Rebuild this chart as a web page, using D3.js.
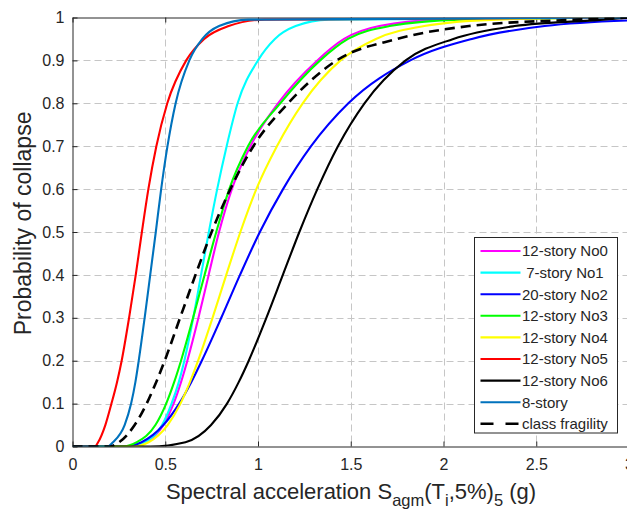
<!DOCTYPE html>
<html>
<head>
<meta charset="utf-8">
<script src="https://cdn.jsdelivr.net/npm/d3@7"></script>
<style>
    body { margin: 0; background: #fff; }
    text { font-family: "Liberation Sans", Arial, Helvetica, sans-serif; fill: #262626; }
</style>
</head>
<body>
<script>

// Chart data

// probability levels at which each curve was read
var probLevels = [0, 0.01, 0.05, 0.1, 0.15, 0.2, 0.3, 0.4, 0.5, 0.6, 0.7, 0.8, 0.9, 0.95, 0.98, 0.995];

// Sa values (g) for each curve at the levels above
var no0 = [0.30, 0.393, 0.490, 0.545, 0.585, 0.619, 0.679, 0.734, 0.79, 0.859, 0.959, 1.108, 1.32, 1.464, 1.654, 1.996];
var no1 = [0.30, 0.39, 0.483, 0.534, 0.573, 0.603, 0.651, 0.693, 0.735, 0.780, 0.831, 0.89, 1.000, 1.091, 1.203, 1.382];
var no2 = [0.28, 0.372, 0.490, 0.575, 0.640, 0.697, 0.802, 0.903, 1.01, 1.135, 1.286, 1.487, 1.821, 2.153, 2.545, 3.137];
var no3 = [0.27, 0.347, 0.447, 0.505, 0.548, 0.585, 0.650, 0.712, 0.775, 0.845, 0.946, 1.12, 1.335, 1.485, 1.709, 2.09];
var no4 = [0.33, 0.410, 0.513, 0.582, 0.633, 0.677, 0.755, 0.829, 0.905, 0.991, 1.102, 1.241, 1.445, 1.636, 1.896, 2.287];
var no5 = [0.12, 0.138, 0.177, 0.210, 0.240, 0.265, 0.305, 0.341, 0.374, 0.409, 0.452, 0.511, 0.613, 0.710, 0.842, 1.035];
var no6 = [0.42, 0.609, 0.747, 0.833, 0.896, 0.950, 1.045, 1.134, 1.223, 1.320, 1.431, 1.574, 1.796, 2.053, 2.384, 2.862];
var story8 = [0.19, 0.218, 0.281, 0.316, 0.339, 0.357, 0.389, 0.419, 0.449, 0.478, 0.512, 0.556, 0.630, 0.700, 0.790, 0.948];
var classFragility = [0.2, 0.251, 0.335, 0.400, 0.451, 0.497, 0.580, 0.663, 0.75, 0.851, 0.975, 1.162, 1.424, 1.750, 2.138, 2.72];

var seriesNames = ['12-story No0', ' 7-story No1', '20-story No2', '12-story No3', '12-story No4',
    '12-story No5', '12-story No6', '8-story', 'class fragility'];
var seriesValues = [no0, no1, no2, no3, no4, no5, no6, story8, classFragility];

var xTicks = [0, 0.5, 1, 1.5, 2, 2.5, 3];
var yTicks = [0, 0.1, 0.2, 0.3, 0.4, 0.5, 0.6, 0.7, 0.8, 0.9, 1];
var xDomain = [0, 3];
var yDomain = [0, 1];

// Styles
var seriesColors = ['#ff00ff', '#00ffff', '#0000ff', '#00ff00', '#ffff00', '#ff0000', '#000000', '#0072bd', '#000000'];
var seriesDash = [null, null, null, null, null, null, null, null, '10,6'];


// ===========================================================================
// Drawing

var W = 627, H = 514;
var plot = { left: 72.5, right: 629, top: 17.5, bottom: 446.5 };

var svg = d3.select('body').append('svg')
    .attr('width', W)
    .attr('height', H);

var x = d3.scaleLinear().domain(xDomain).range([plot.left, plot.right]);
var y = d3.scaleLinear().domain(yDomain).range([plot.bottom, plot.top]);

svg.append('clipPath').attr('id', 'clip')
    .append('rect')
    .attr('x', plot.left)
    .attr('y', plot.top)
    .attr('width', plot.right - plot.left)
    .attr('height', plot.bottom - plot.top);

// Grid
var grid = svg.append('g').attr('class', 'grid')
    .attr('stroke', '#c6c6c6')
    .attr('stroke-width', 1)
    .attr('stroke-dasharray', '7,4');

grid.selectAll('line.gx')
    .data(xTicks.filter(function (d) { return d > xDomain[0] && d < xDomain[1]; }))
    .enter().append('line')
    .attr('class', 'gx')
    .attr('x1', function (d) { return Math.round(x(d)) + 0.5; })
    .attr('x2', function (d) { return Math.round(x(d)) + 0.5; })
    .attr('y1', plot.top)
    .attr('y2', plot.bottom);

grid.selectAll('line.gy')
    .data(yTicks.filter(function (d) { return d > yDomain[0] && d < yDomain[1]; }))
    .enter().append('line')
    .attr('class', 'gy')
    .attr('y1', function (d) { return Math.round(y(d)) + 0.5; })
    .attr('y2', function (d) { return Math.round(y(d)) + 0.5; })
    .attr('x1', plot.left)
    .attr('x2', plot.right);

// Axes (MATLAB style: ticks pointing inwards, box on)
var tickLen = 5;

var xAxis = svg.append('g')
    .attr('transform', 'translate(0,' + plot.bottom + ')')
    .call(d3.axisBottom(x).tickValues(xTicks).tickSizeInner(-tickLen).tickSizeOuter(0)
        .tickPadding(12).tickFormat(d3.format('')));

var xAxisTop = svg.append('g')
    .attr('transform', 'translate(0,' + plot.top + ')')
    .call(d3.axisTop(x).tickValues(xTicks).tickSizeInner(-tickLen).tickSizeOuter(0)
        .tickFormat(''));

var yAxis = svg.append('g')
    .attr('transform', 'translate(' + plot.left + ',0)')
    .call(d3.axisLeft(y).tickValues(yTicks).tickSizeInner(-tickLen).tickSizeOuter(0)
        .tickPadding(8).tickFormat(d3.format('')));

[xAxis, xAxisTop, yAxis].forEach(function (g) {
    g.selectAll('path.domain').attr('stroke', '#262626').attr('stroke-width', 1);
    g.selectAll('.tick line').attr('stroke', '#262626');
    g.selectAll('.tick text')
        .attr('font-size', 16)
        .attr('fill', '#262626')
        .attr('font-family', '"Liberation Sans", Arial, sans-serif');
});

// Curves
var line = d3.line()
    .x(function (d) { return x(d[0]); })
    .y(function (d) { return y(d[1]); })
    .curve(d3.curveMonotoneX);

function curvePoints(values) {
    var pts = [[xDomain[0], 0]];
    values.forEach(function (v, i) {
        pts.push([v, probLevels[i]]);
    });
    if (values[values.length - 1] < xDomain[1]) {
        pts.push([xDomain[1], 1]);
    }
    return pts;
}

var curves = svg.append('g').attr('clip-path', 'url(#clip)');

curves.selectAll('path')
    .data(seriesValues)
    .enter().append('path')
    .attr('d', function (d) { return line(curvePoints(d)); })
    .attr('fill', 'none')
    .attr('stroke', function (d, i) { return seriesColors[i]; })
    .attr('stroke-width', function (d, i) { return seriesDash[i] ? 2.6 : 2.1; })
    .attr('stroke-dasharray', function (d, i) { return seriesDash[i]; })
    .attr('stroke-linejoin', 'round');

// Legend
var legend = svg.append('g').attr('class', 'legend');
var lg = { x: 474.5, y: 237.5, w: 143, h: 195.5, row: 21.6 };

legend.append('rect')
    .attr('x', lg.x)
    .attr('y', lg.y)
    .attr('width', lg.w)
    .attr('height', lg.h)
    .attr('fill', '#fff')
    .attr('stroke', '#262626')
    .attr('stroke-width', 1);

var item = legend.selectAll('g.item')
    .data(seriesNames)
    .enter().append('g')
    .attr('class', 'item')
    .attr('transform', function (d, i) {
        return 'translate(' + lg.x + ',' + (lg.y + 13.5 + i * lg.row) + ')';
    });

item.append('line')
    .attr('x1', 6)
    .attr('x2', 46)
    .attr('stroke', function (d, i) { return seriesColors[i]; })
    .attr('stroke-width', function (d, i) { return seriesDash[i] ? 2.6 : 2.1; })
    .attr('stroke-dasharray', function (d, i) { return seriesDash[i] ? '13,12' : null; });

item.append('text')
    .attr('x', 47.5)
    .attr('dy', '0.36em')
    .attr('font-size', 15)
    .attr('fill', '#000')
    .style('white-space', 'pre')
    .text(function (d) { return d; });

// Axis labels
var xl = svg.append('text')
    .attr('x', 351)
    .attr('y', 499)
    .attr('text-anchor', 'middle')
    .attr('font-size', 22)
    .style('white-space', 'pre');
xl.append('tspan').text('Spectral acceleration S');
xl.append('tspan').attr('font-size', 16.5).attr('dy', 7).text('agm');
xl.append('tspan').attr('dy', -7).text('(T');
xl.append('tspan').attr('font-size', 16.5).attr('dy', 7).text('i');
xl.append('tspan').attr('dy', -7).text(',5%)');
xl.append('tspan').attr('font-size', 16.5).attr('dy', 7).text('5');
xl.append('tspan').attr('dy', -7).text(' (g)');

svg.append('text')
    .attr('transform', 'translate(31,' + y(0.52) + ') rotate(-90)')
    .attr('text-anchor', 'middle')
    .attr('font-size', 23)
    .text('Probability of collapse');

</script>
</body>
</html>
